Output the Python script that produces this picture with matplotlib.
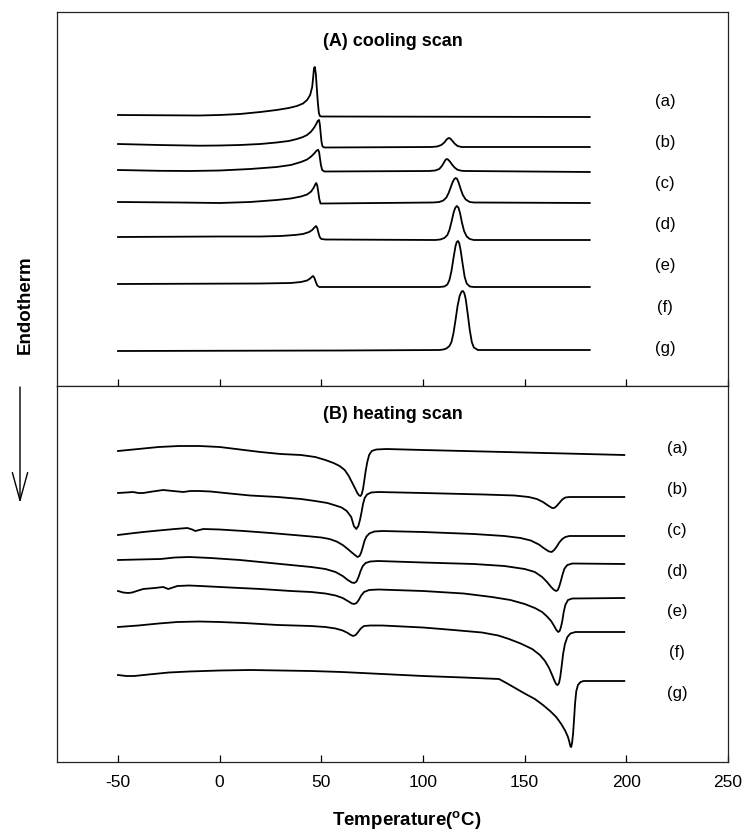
import matplotlib
matplotlib.use("Agg")
import matplotlib.pyplot as plt
from matplotlib import font_manager
from matplotlib.patches import FancyArrowPatch

names = {f.name for f in font_manager.fontManager.ttflist}
FONT = "Liberation Sans Narrow" if "Liberation Sans Narrow" in names else "Liberation Sans"

# ---------------- data (vertical unit: endotherm-down, arbitrary) ----
labels = ["(a)", "(b)", "(c)", "(d)", "(e)", "(f)", "(g)"]

# (A) cooling scans
cool_a_T = [-50, -10, 0, 10, 20, 28, 34, 38, 41, 43, 44.5, 45.5, 46, 46.4, 46.8, 47.3, 47.8, 48.3, 48.8, 49.3, 50, 182]
cool_a_v = [116, 116.5, 116, 115, 113, 111, 109, 107, 104.5, 101, 96, 88, 78, 69, 68, 75, 90, 104, 114, 117, 117.5, 118]
cool_b_T = [-50, -30, -10, 0, 10, 20, 28, 34, 38, 41, 43, 45, 46.5, 47.5, 48.2, 48.9, 49.3, 49.7, 50.1, 50.6, 51.5,
            104, 107, 109, 110.5, 111.6, 112.6, 113.4, 114.3, 115.5, 117, 119, 121, 182]
cool_b_v = [145, 146, 146.7, 146.5, 146, 145, 143.5, 142, 140, 138, 136, 132.5, 128.5, 125, 122, 121, 126, 135, 143, 147.5, 148.5,
            148, 147.5, 146, 143.5, 140.5, 139, 139.5, 141.5, 144.5, 147, 148, 148, 148]
cool_c_T = [-50, -30, -15, 0, 15, 28, 35, 40, 43, 45, 46.5, 47.5, 48.4, 48.9, 49.3, 49.8, 50.4, 51.5,
            103, 106, 108, 109.3, 110.3, 111, 111.6, 112.3, 113.2, 114.3, 115.5, 117, 119, 121, 182]
cool_c_v = [171, 171.8, 172, 171.5, 170, 168, 166, 163, 160.5, 157.5, 154.5, 152, 150.7, 153, 159, 166, 171, 172.5,
            172, 171.5, 170, 167, 163.5, 161, 160, 160.5, 162.5, 165.5, 168.5, 170.8, 171.8, 172, 173]
cool_d_T = [-50, -20, 0, 15, 28, 35, 40, 43, 45, 46.3, 47, 47.5, 48, 48.5, 49, 49.6, 51,
            105, 108, 110, 111.5, 112.6, 113.6, 114.6, 115.4, 116.1, 116.8, 117.6, 118.6, 119.6, 121, 123, 125, 182]
cool_d_v = [203, 203.5, 204, 203, 201, 199.5, 197.5, 195.5, 192.5, 188.5, 185.5, 184, 186.5, 193, 200, 204.5, 204.5,
            203.5, 203, 201.5, 198.5, 194, 188.5, 183, 180, 179, 180, 184, 190.5, 196, 200.5, 203, 203.5, 204]
cool_e_T = [-50, 0, 20, 30, 37, 41, 44, 45.5, 46.6, 47.4, 48, 48.6, 49.2, 50, 52,
            106, 108.5, 110.5, 112, 113, 114, 115, 115.8, 116.6, 117.4, 118.2, 119.2, 120.2, 121.5, 123, 125, 182]
cool_e_v = [238, 237.5, 237.5, 237, 236, 235, 233, 231, 228.5, 227, 229, 234, 238, 240, 240.5,
            241, 240.5, 239, 236, 231, 223, 214, 209, 207, 208.5, 214, 224, 232, 237.5, 240, 241, 241]
cool_f_T = [-50, 20, 35, 40, 43, 44.5, 45.3, 45.9, 46.5, 47.2, 48, 49, 50.5,
            108, 110.5, 112, 113, 114, 115, 116, 116.6, 117.2, 117.8, 118.5, 119.5, 120.5, 121.5, 123, 125, 182]
cool_f_v = [285, 284.5, 284, 283, 281.5, 279.5, 278, 277, 278.5, 282.5, 286.5, 288, 288,
            288, 287.5, 285.5, 281, 272, 259, 247, 243, 242, 244, 251, 265, 278, 284.5, 287.5, 288, 288]
cool_g_T = [-50, 60, 108, 110, 111.5, 113, 114, 115, 116, 117, 118, 119, 119.6, 120.3, 121, 122, 123, 124, 125, 127, 182]
cool_g_v = [352, 351.5, 351, 350.5, 349.5, 347, 343, 334, 321, 307, 297, 292.5, 292, 294, 300, 315, 331, 343, 348.5, 351, 351]

# (B) heating scans
heat_a_T = [-50, -40, -30, -20, -10, 0, 10, 20, 30, 40, 47, 52, 56, 59, 61.5, 63.5, 65, 66.5, 67.7, 68.6, 69.3,
            69.9, 70.5, 71.1, 71.8, 72.6, 73.5, 74.8, 77, 82, 100, 140, 170, 199]
heat_a_v = [452, 450, 448, 447, 447, 448, 450.5, 453, 455, 456, 458, 461, 464, 467, 471, 477, 483, 489, 494, 496.5, 497,
            495, 490, 482, 472, 463, 456, 452, 450.5, 450, 451, 453, 454.5, 456]
heat_b_T = [-50, -46, -42.6, -40, -37.6, -33, -27.8, -23, -17.9, -14.4, -10, -4.5, 5, 15, 28.6, 40, 47, 53, 57, 60,
            62.5, 64.7, 66, 67.2, 68.2, 69, 69.8, 70.5, 71.3, 72.5, 74.5, 78, 100, 130, 145, 152, 156, 159, 161.5,
            163.5, 164.5, 165.5, 167, 168.5, 170, 172, 199]
heat_b_v = [494, 493.5, 493, 494, 494, 492.5, 491, 492, 493, 492, 492, 492.5, 494.5, 496.5, 498, 500, 502, 504, 506.5, 508.5,
            512, 518, 527, 530, 527, 521, 513, 505, 499, 495.5, 493.5, 493, 494, 495.5, 496.5, 498, 500, 503, 506.5,
            509, 509, 507.5, 504, 500.5, 498.5, 498, 498]
heat_c_T = [-50, -44, -37.6, -30, -22, -15.9, -13.5, -12, -10, -8, 0, 11.8, 25, 36.5, 45, 50, 54, 57.5, 60.5, 63, 65,
            66.5, 67.8, 68.8, 69.6, 70.4, 71.2, 72.2, 73.6, 76, 80, 100, 125, 140, 148, 153, 157, 160, 162, 163.3,
            164.5, 165.8, 167, 168.5, 170, 172, 199]
heat_c_v = [536, 534.5, 533, 531.5, 530, 529, 530.5, 532, 531, 530, 530.5, 532, 534, 536, 537.5, 538.5, 540, 542.5, 546, 550, 553.5,
            556, 558, 557, 553.5, 548, 542, 537.5, 534.5, 532.5, 532, 533, 535, 537, 539, 541.5, 545.5, 550, 552.5, 553,
            551, 547.5, 543.5, 540, 538, 537, 537]
heat_d_T = [-50, -40, -29, -22, -15, -4.5, 10, 20, 35, 45, 52, 57, 60.5, 63, 65, 66.2, 67.3, 68.3, 69.3, 70.4, 71.8,
            74, 78, 100, 125, 140, 150, 155, 158.6, 161, 163, 164.5, 165.5, 166.3, 167, 167.8, 168.7, 169.6, 171,
            173.4, 199]
heat_d_v = [561, 560.5, 560, 558.5, 558, 559, 561, 563, 566, 568, 570, 573, 577, 581, 583.5, 584, 582.5, 578, 572, 567, 564,
            562.5, 562, 563.5, 565, 567, 570, 573, 578, 583, 588, 591, 592, 591, 587.5, 582, 575, 569.5, 566,
            564.5, 565]
heat_e_T = [-50, -47.5, -45, -43, -40, -37.6, -32, -27.8, -25.3, -23, -20.8, -15, -9.5, 5, 20.2, 35, 45, 52, 57,
            60.5, 63, 65, 66.2, 67.3, 68.4, 69.6, 71, 73.5, 78, 100, 120, 133.9, 143, 150, 155, 158.6, 161, 163,
            164.5, 165.6, 166.5, 167.2, 167.8, 168.5, 169.2, 170, 171.3, 173.4, 199]
heat_e_v = [592, 593.5, 594, 593.5, 591.5, 590, 589, 588, 590, 588.5, 587, 586.5, 587, 588.5, 590, 592, 593, 594.5, 596.5,
            599, 602, 604.5, 605, 604, 601, 596.5, 593, 591, 590.5, 592, 594.5, 598, 601, 605, 609, 613, 617.5, 622,
            627, 631, 633, 632, 628.5, 622, 613, 606, 601, 599.5, 599]
heat_f_T = [-50, -40, -30, -20.8, -10, 0, 11.8, 28.6, 44.9, 52, 57, 60.5, 63, 64.5, 65.7, 66.9, 68.1, 69.4, 71, 74,
            80, 100, 115, 129, 137, 142.3, 148, 153.7, 157.5, 160, 162, 163.5, 164.7, 165.6, 166.2, 166.9, 167.5,
            168.2, 168.9, 169.8, 171, 172.5, 175, 199]
heat_f_v = [628, 626.5, 624.5, 623, 622.5, 623, 624, 626, 627, 628, 629.5, 631.5, 634, 636, 637, 636, 633, 629.5, 627, 626.5,
            626.5, 628.5, 631, 633.5, 636.5, 640, 644.5, 650, 656, 662, 669, 676, 682, 685.5, 686, 684, 678,
            667, 655, 645, 638, 634.5, 633, 633]
heat_g_T = [-50, -46, -42, -35, -25, -15, 0, 15, 30, 45, 60, 80, 100, 120, 137.4, 141, 145.3, 150, 155, 159, 162.5,
            165.5, 168, 170, 171.3, 172, 172.5, 172.9, 173.3, 173.8, 174.3, 174.8, 175.4, 176.2, 177.5, 179, 199]
heat_g_v = [676, 677, 677, 675.5, 673.5, 672.5, 671.5, 671, 671.5, 672, 673, 675, 677, 678.5, 680, 684, 689, 694.5, 700, 706, 712,
            718, 725, 732, 738, 743, 747.5, 748, 744, 735, 720, 704, 692, 686, 683, 682, 682]

cool_label_v = [101, 142, 183, 224, 265, 307, 348]
heat_label_v = [449, 490, 531, 572, 612, 653, 694]
cool_label_T = 219
heat_label_T = 225

xticks = [-50, 0, 50, 100, 150, 200, 250]

cool_curves = [(cool_a_T, cool_a_v), (cool_b_T, cool_b_v), (cool_c_T, cool_c_v), (cool_d_T, cool_d_v),
               (cool_e_T, cool_e_v), (cool_f_T, cool_f_v), (cool_g_T, cool_g_v)]
heat_curves = [(heat_a_T, heat_a_v), (heat_b_T, heat_b_v), (heat_c_T, heat_c_v), (heat_d_T, heat_d_v),
               (heat_e_T, heat_e_v), (heat_f_T, heat_f_v), (heat_g_T, heat_g_v)]

# ---------------- figure ----------------
W, H = 745, 837
fig = plt.figure(figsize=(W / 100, H / 100), dpi=100)
L, R = 57, 728
axA = fig.add_axes([L / W, 1 - 387 / H, (R - L) / W, (387 - 13) / H])
axB = fig.add_axes([L / W, 1 - 763 / H, (R - L) / W, (763 - 387) / H])

for ax, ylim in ((axA, (387, 13)), (axB, (763, 387))):
    ax.set_xlim(-80, 250)
    ax.set_ylim(*ylim)
    ax.set_yticks([])
    ax.set_xticks(xticks)
    ax.tick_params(axis="x", direction="in", length=5, width=0.9, color="black", pad=9)
    for s in ax.spines.values():
        s.set_linewidth(0.9)
        s.set_color("#222222")

axA.tick_params(axis="x", labelbottom=False)
axB.set_xticklabels([str(t) for t in xticks], fontsize=12.5, family=FONT)

for (T, v) in cool_curves:
    axA.plot(T, v, color="black", lw=1.3, solid_joinstyle="round")
for (T, v) in heat_curves:
    axB.plot(T, v, color="black", lw=1.3, solid_joinstyle="round")

for lab, y in zip(labels, cool_label_v):
    axA.text(cool_label_T, y, lab, ha="center", va="center", fontsize=12, family=FONT)
for lab, y in zip(labels, heat_label_v):
    axB.text(heat_label_T, y, lab, ha="center", va="center", fontsize=12, family=FONT)

axA.text(0.5, 0.925, "(A) cooling scan", transform=axA.transAxes, ha="center", va="center",
         fontsize=13, fontweight="bold", family=FONT)
axB.text(0.5, 0.926, "(B) heating scan", transform=axB.transAxes, ha="center", va="center",
         fontsize=13, fontweight="bold", family=FONT)

fig.text(407 / W, 1 - 820 / H, "Temperature($\\mathregular{^{o}}$C)", ha="center", va="center",
         fontsize=13.5, fontweight="bold", family=FONT)
fig.text(25 / W, 1 - 305 / H, "Endotherm", rotation=90, ha="center", va="center",
         fontsize=13.5, fontweight="bold", family=FONT)
fig.add_artist(FancyArrowPatch((20 / W, 1 - 388 / H), (20 / W, 1 - 504 / H),
               transform=fig.transFigure, arrowstyle="->,head_length=20,head_width=5.5",
               shrinkA=0, shrinkB=0, color="black", lw=1.0))

fig.savefig("out.png", dpi=100)
